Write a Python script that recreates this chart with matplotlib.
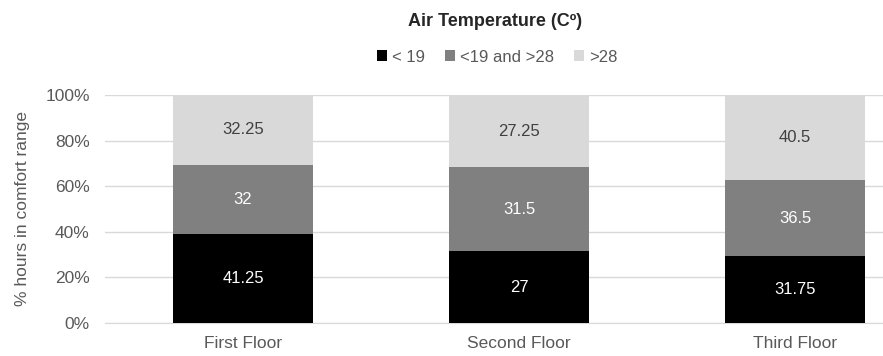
import numpy as np
import matplotlib.pyplot as plt

plt.rcParams['font.family'] = ['Liberation Sans', 'DejaVu Sans']

# hours per temperature band for each floor
floors = ["First Floor", "Second Floor", "Third Floor"]
below_19 = [41.25, 27, 31.75]
between = [32, 31.5, 36.5]
above_28 = [32.25, 27.25, 40.5]

series_names = ["< 19", "<19 and >28", ">28"]
series_colors = ["#000000", "#808080", "#d9d9d9"]
text_colors = ["white", "white", "#404040"]

values = np.array([below_19, between, above_28], dtype=float)
totals = values.sum(axis=0)
shares = values / totals * 100

fig = plt.figure(figsize=(8.83, 3.56), dpi=100)
ax = fig.add_axes([105 / 883, 33 / 356, 828 / 883, 228 / 356])

x = np.arange(len(floors))
bottom = np.zeros(len(floors))
handles = []
for i in range(3):
    bars = ax.bar(x, shares[i], width=0.507, bottom=bottom,
                  color=series_colors[i], zorder=3, label=series_names[i])
    handles.append(bars)
    for j in range(len(floors)):
        ax.text(x[j], bottom[j] + shares[i][j] / 2, f"{values[i][j]:g}",
                ha="center", va="center", fontsize=12,
                color=text_colors[i], zorder=4)
    bottom += shares[i]

ax.set_xlim(-0.5, 2.5)
ax.set_ylim(0, 100)
ax.set_yticks(range(0, 101, 20))
ax.set_yticklabels([f"{t}%" for t in range(0, 101, 20)])
ax.set_xticks(x)
ax.set_xticklabels(floors)
ax.grid(axis="y", color="#d9d9d9", linewidth=1, zorder=0)
for s in ["top", "right", "left"]:
    ax.spines[s].set_visible(False)
ax.spines["bottom"].set_color("#d9d9d9")
ax.tick_params(axis="both", length=0, colors="#595959", labelsize=12.5)
ax.tick_params(axis="x", pad=9)
ax.tick_params(axis="y", pad=11)
ax.set_ylabel("% hours in comfort range", fontsize=12.5, color="#595959",
              labelpad=11)

fig.text(495 / 883, 1 - 22 / 356, "Air Temperature (C\u00ba)",
         ha="center", va="center", fontsize=13, fontweight="bold",
         color="#262626")
fig.legend(handles=handles, labels=series_names, loc="center",
           bbox_to_anchor=(497 / 883, 1 - 57 / 356), ncol=3, frameon=False,
           handlelength=0.6, handleheight=0.6, handletextpad=0.3,
           columnspacing=1.2, fontsize=12, labelcolor="#595959")

fig.savefig("out.png", dpi=100)
